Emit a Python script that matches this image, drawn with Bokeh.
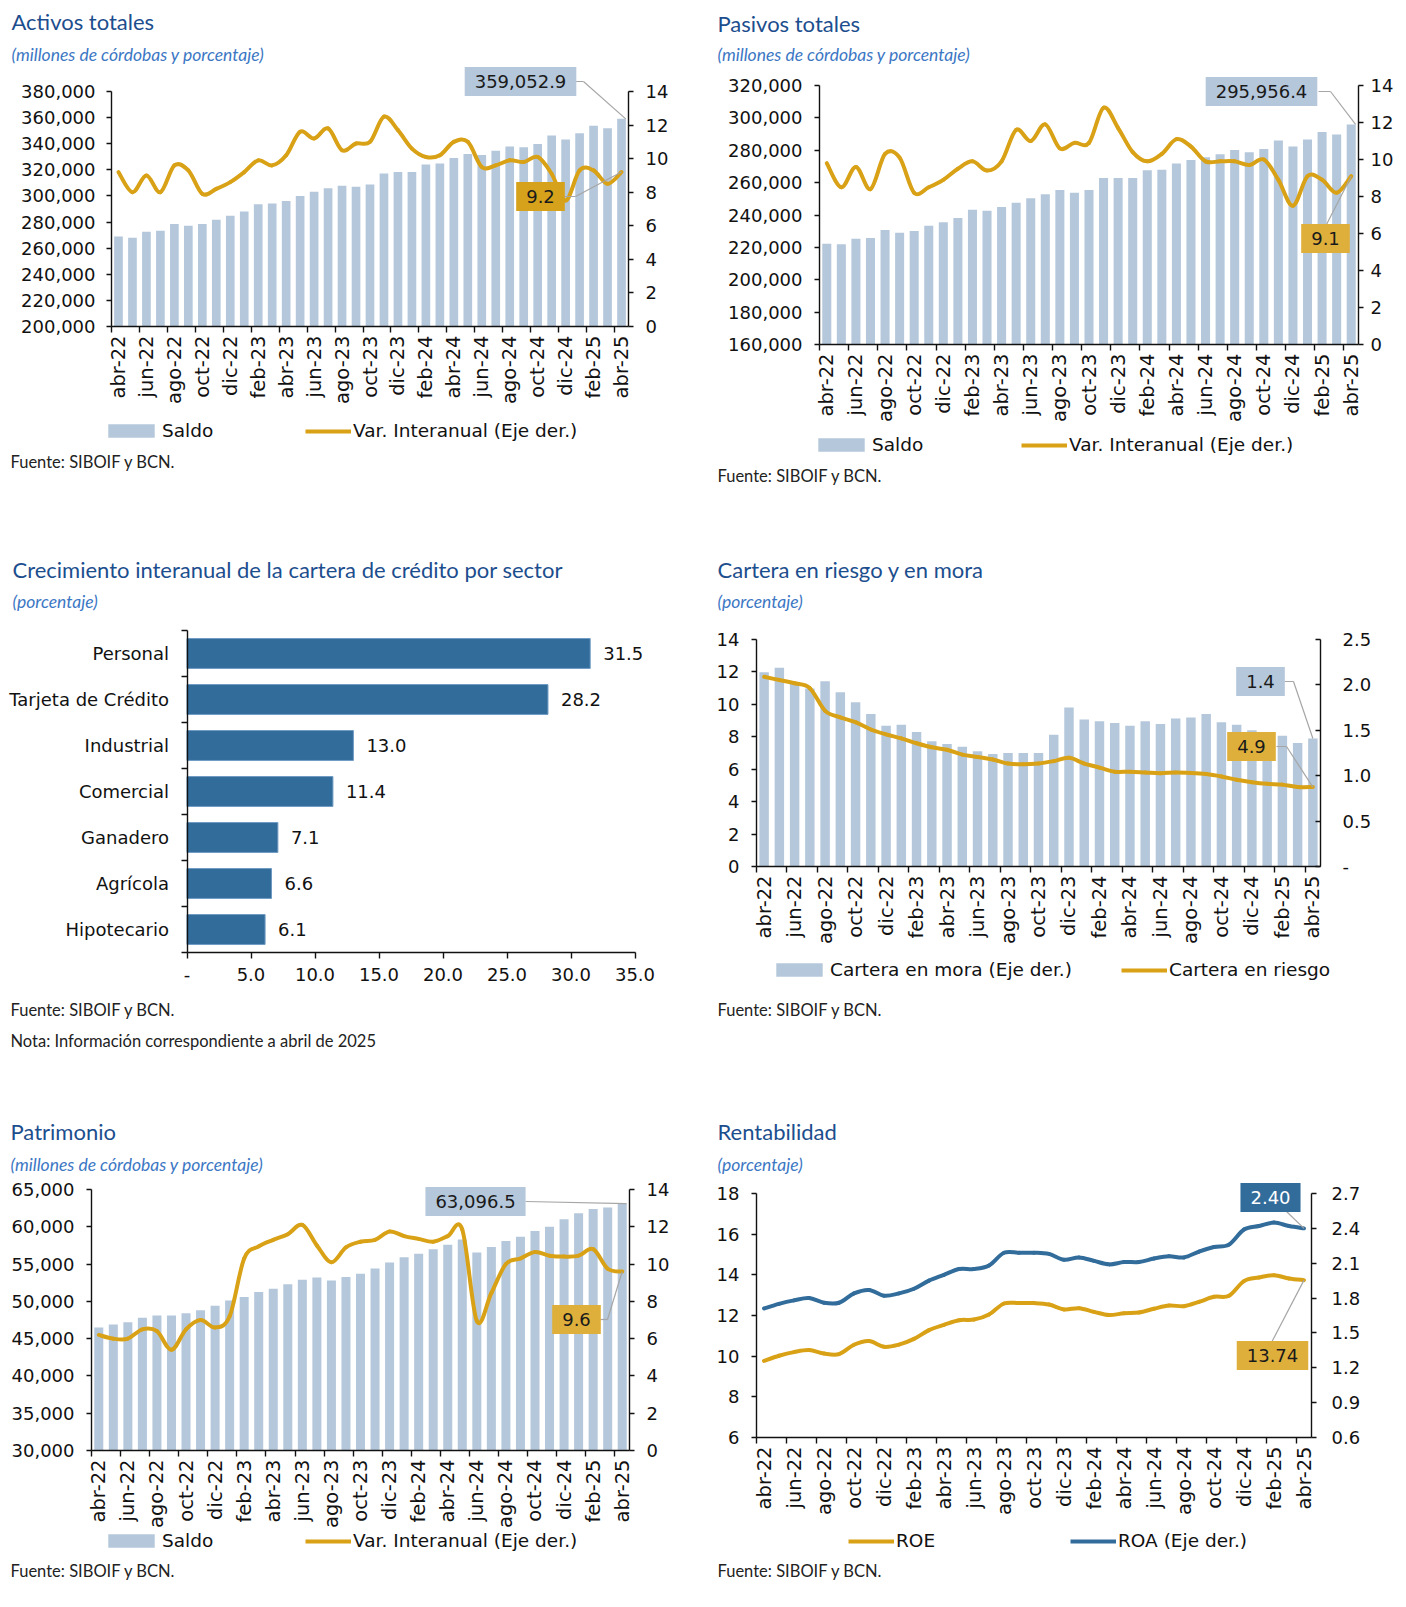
import math
from bokeh.plotting import figure
from bokeh.models import (Range1d, LinearAxis, FixedTicker, NumeralTickFormatter, Label,
                          Legend, LegendItem, Arrow, ColumnDataSource, LabelSet)
from bokeh.layouts import column, row
from bokeh.embed import file_html
from bokeh.resources import INLINE
from bokeh.core.properties import value

# ---------------- data ----------------
tick_labels = ["abr-22", "jun-22", "ago-22", "oct-22", "dic-22", "feb-23", "abr-23", "jun-23",
               "ago-23", "oct-23", "dic-23", "feb-24", "abr-24", "jun-24", "ago-24", "oct-24",
               "dic-24", "feb-25", "abr-25"]

activos_saldo = [269000, 268000, 272600, 273400, 278500, 277200, 278500, 281800, 284900, 288000,
                 293600, 294300, 296100, 300000, 303300, 305800, 307900, 307100, 308700, 317100,
                 318400, 318400, 324000, 324800, 329100, 332200, 331400, 334700, 337800, 337300,
                 339800, 346300, 343200, 348100, 353700, 351900, 359052.9]
activos_var = [9.2, 8.0, 9.0, 8.0, 9.6, 9.3, 7.9, 8.2, 8.6, 9.2, 9.9, 9.6, 10.2, 11.6, 11.2, 11.8,
               10.5, 10.9, 11.0, 12.5, 11.7, 10.6, 10.1, 10.2, 11.0, 11.0, 9.5, 9.6, 9.9, 9.8,
               10.1, 9.1, 7.5, 9.3, 9.3, 8.5, 9.2]

pasivos_saldo = [222300, 221900, 225400, 225800, 230700, 229100, 230100, 233400, 235500, 238100,
                 243300, 242700, 244900, 247600, 250300, 252800, 255500, 253800, 255500, 262900,
                 262900, 262900, 267600, 268000, 271800, 274000, 275700, 277500, 280200, 278800,
                 280800, 286000, 282300, 286600, 291300, 289700, 295956.4]
pasivos_var = [9.8, 8.5, 9.6, 8.4, 10.3, 10.1, 8.2, 8.5, 8.9, 9.5, 9.9, 9.4, 9.9, 11.6, 11.0, 11.9,
               10.6, 10.9, 10.9, 12.8, 11.7, 10.4, 9.9, 10.3, 11.1, 10.7, 9.9, 9.9, 9.9, 9.7,
               10.0, 8.9, 7.5, 9.1, 8.9, 8.2, 9.1]

sectores = ["Personal", "Tarjeta de Crédito", "Industrial", "Comercial", "Ganadero", "Agrícola",
            "Hipotecario"]
crecimiento = [31.5, 28.2, 13.0, 11.4, 7.1, 6.6, 6.1]

cartera_mora = [2.14, 2.19, 2.03, 1.96, 2.04, 1.92, 1.81, 1.68, 1.55, 1.56, 1.48, 1.38, 1.35, 1.32,
                1.27, 1.24, 1.25, 1.25, 1.25, 1.45, 1.75, 1.62, 1.60, 1.58, 1.55, 1.60, 1.57, 1.63,
                1.64, 1.68, 1.59, 1.56, 1.50, 1.46, 1.44, 1.36, 1.41]
cartera_riesgo = [11.7, 11.5, 11.3, 11.0, 9.6, 9.2, 8.9, 8.45, 8.15, 7.9, 7.6, 7.35, 7.2, 6.9, 6.75,
                  6.6, 6.35, 6.3, 6.35, 6.5, 6.7, 6.35, 6.1, 5.85, 5.85, 5.8, 5.75, 5.8, 5.77, 5.7,
                  5.55, 5.35, 5.2, 5.1, 5.05, 4.9, 4.9]

patrimonio_saldo = [46500, 46900, 47200, 47800, 48100, 48100, 48400, 48800, 49400, 50100, 50600,
                    51250, 51700, 52300, 52900, 53200, 52800, 53250, 53700, 54400, 55200, 55900,
                    56400, 57000, 57600, 58300, 56550, 57300, 58100, 58650, 59450, 60000, 61000,
                    61800, 62400, 62600, 63096.5]
patrimonio_var = [6.2, 6.0, 6.0, 6.5, 6.4, 5.4, 6.5, 7.0, 6.6, 7.2, 10.3, 10.95, 11.3, 11.6, 12.1,
                  11.0, 10.1, 10.9, 11.2, 11.3, 11.75, 11.5, 11.35, 11.2, 11.5, 11.85, 6.95, 8.45,
                  10.0, 10.3, 10.65, 10.45, 10.4, 10.45, 10.8, 9.75, 9.6]

roe = [9.77, 10.02, 10.20, 10.30, 10.13, 10.10, 10.56, 10.74, 10.46, 10.57, 10.85, 11.28, 11.54,
       11.77, 11.80, 12.05, 12.59, 12.61, 12.61, 12.54, 12.30, 12.36, 12.18, 12.02, 12.11, 12.15,
       12.33, 12.49, 12.46, 12.67, 12.92, 12.97, 13.69, 13.87, 13.98, 13.82, 13.74]
roa = [1.71, 1.75, 1.78, 1.80, 1.76, 1.76, 1.84, 1.87, 1.82, 1.84, 1.88, 1.95, 2.00, 2.05, 2.05,
       2.08, 2.19, 2.19, 2.19, 2.18, 2.13, 2.15, 2.12, 2.09, 2.11, 2.11, 2.14, 2.16, 2.15, 2.20,
       2.24, 2.26, 2.39, 2.42, 2.45, 2.42, 2.40]

N = len(activos_saldo)
xs = list(range(N))
tick_pos = list(range(0, N, 2))
XLO, XHI = -0.5, N - 0.5

# ---------------- style ----------------
TICK_FONT = "DejaVu Sans"
TITLE_FONT = "Lato"
BAR = "#B4C7DB"
GOLD = "#D9A116"
GOLD_BOX = "#DFAF3C"
GOLD_BOX_DARK = "#D6A21C"
BLUE = "#326C9B"
TITLE_C = "#1C4E8E"
SUB_C = "#3C77C4"
LEAD = "#A6A6A6"
FS = "18px"
FS_LEG = "18.5px"
FS_X = "19.5px"

# page geometry: figure origin/size and plot-area (axes) edges, in page pixels
G = {
    "p1": dict(ox=0, oy=0, w=703, h=544, fl=111, fr=628, ft=91, fb=326),
    "p2": dict(ox=703, oy=0, w=695, h=544, fl=819, fr=1358, ft=85, fb=344),
    "p3": dict(ox=0, oy=544, w=703, h=549, fl=186.5, fr=634.5, ft=630, fb=952),
    "p4": dict(ox=703, oy=544, w=695, h=549, fl=756, fr=1320, ft=639, fb=866),
    "p5": dict(ox=0, oy=1093, w=703, h=507, fl=91, fr=629, ft=1189, fb=1450),
    "p6": dict(ox=703, oy=1093, w=695, h=507, fl=756, fr=1311, ft=1193, fb=1437),
}


def yrange_for(g, lo, hi):
    sy = (hi - lo) / (g["fb"] - g["ft"])
    return Range1d(lo - (g["oy"] + g["h"] - g["fb"]) * sy, hi + (g["ft"] - g["oy"]) * sy)


def xrange_for(g, lo, hi):
    sx = (hi - lo) / (g["fr"] - g["fl"])
    return Range1d(lo - (g["fl"] - g["ox"]) * sx, hi + (g["ox"] + g["w"] - g["fr"]) * sx)


def make_fig(g, xlo, xhi, ylo, yhi):
    p = figure(width=g["w"], height=g["h"], x_range=xrange_for(g, xlo, xhi),
               y_range=yrange_for(g, ylo, yhi), output_backend="svg", toolbar_location=None,
               min_border=0)
    p.min_border_left = 0
    p.min_border_right = 0
    p.min_border_top = 0
    p.min_border_bottom = 0
    p.title.visible = False
    p.title_location = None
    p.outline_line_color = None
    p.xgrid.visible = False
    p.ygrid.visible = False
    return p


def S(g, X, Y):
    return X - g["ox"], g["oy"] + g["h"] - Y


def style_axis(ax, tick_out=5, tick_in=0, standoff=10, size=FS):
    ax.axis_line_color = "#111111"
    ax.axis_line_width = 1.4
    ax.major_tick_line_color = "#111111"
    ax.major_tick_line_width = 1.4
    ax.minor_tick_line_color = None
    ax.major_tick_out = tick_out
    ax.major_tick_in = tick_in
    ax.major_label_standoff = standoff
    ax.major_label_text_font = TICK_FONT
    ax.major_label_text_font_size = size
    ax.major_label_text_color = "#111111"


def month_axis(p, ylo):
    xa = p.xaxis[0]
    xa.fixed_location = ylo
    xa.bounds = (XLO, XHI)
    style_axis(xa, tick_out=0, tick_in=0, standoff=3, size=FS_X)
    xa.ticker = FixedTicker(ticks=tick_pos, minor_ticks=[t - 0.5 for t in tick_pos])
    xa.major_label_overrides = {t: lab for t, lab in zip(tick_pos, tick_labels)}
    xa.major_label_orientation = math.pi / 2
    xa.major_tick_line_color = None
    xa.minor_tick_line_color = "#111111"
    xa.minor_tick_line_width = 1.4
    xa.minor_tick_out = 6
    xa.minor_tick_in = 0


def left_axis(p, ticks, fmt, standoff=11):
    la = p.yaxis[0]
    la.fixed_location = XLO
    la.bounds = (ticks[0], ticks[-1])
    la.ticker = FixedTicker(ticks=ticks)
    la.formatter = NumeralTickFormatter(format=fmt)
    style_axis(la, tick_out=5, standoff=standoff)


def right_axis(p, g, ticks, fmt, tick_out=5, tick_in=0, standoff=12, overrides=None):
    lo, hi = ticks[0], ticks[-1]
    p.extra_y_ranges = {"r": yrange_for(g, lo, hi)}
    ra = LinearAxis(y_range_name="r", ticker=FixedTicker(ticks=ticks),
                    formatter=NumeralTickFormatter(format=fmt), fixed_location=XHI,
                    bounds=(lo, hi))
    style_axis(ra, tick_out=tick_out, tick_in=tick_in, standoff=standoff)
    if overrides:
        ra.major_label_overrides = overrides
    p.add_layout(ra, "right")


def txt(p, g, X, Y, text, size, color, font, style="normal"):
    sx, sy = S(g, X, Y)
    p.add_layout(Label(x=sx, y=sy, x_units="screen", y_units="screen",
                       text=text, text_font=font, text_font_size=size, text_color=color,
                       text_font_style=style, text_align="left", text_baseline="middle"))


def box(p, g, X, Y, text, fill, color="#1A1A1A"):
    sx, sy = S(g, X, Y)
    lab = Label(x=sx, y=sy, x_units="screen", y_units="screen", text=text,
                text_font=TICK_FONT, text_font_size=FS, text_color=color, text_align="center",
                text_baseline="middle", background_fill_color=fill)
    try:
        lab.padding = (10, 8)
    except Exception:
        try:
            lab.padding = 8
        except Exception:
            pass
    p.add_layout(lab)


def leader(p, g, pts, end_data, yr="default"):
    for a, b in zip(pts[:-1], pts[1:]):
        ax_, ay_ = S(g, *a)
        bx_, by_ = S(g, *b)
        p.add_layout(Arrow(x_start=ax_, y_start=ay_, x_end=bx_, y_end=by_,
                           start_units="screen", end_units="screen", end=None,
                           line_color=LEAD, line_width=1.2))
    ax_, ay_ = S(g, *pts[-1])
    p.add_layout(Arrow(x_start=ax_, y_start=ay_, x_end=end_data[0], y_end=end_data[1],
                       start_units="screen", end_units="data", end=None,
                       line_color=LEAD, line_width=1.2, y_range_name=yr))


def smooth(p, x, y, color, width, yr="default"):
    n = len(x)
    d = dict(x0=[], y0=[], x1=[], y1=[], cx0=[], cy0=[], cx1=[], cy1=[])
    for i in range(n - 1):
        im = max(i - 1, 0)
        ip = min(i + 2, n - 1)
        d["x0"].append(x[i]); d["y0"].append(y[i])
        d["x1"].append(x[i + 1]); d["y1"].append(y[i + 1])
        d["cx0"].append(x[i] + (x[i + 1] - x[im]) / 6.0)
        d["cy0"].append(y[i] + (y[i + 1] - y[im]) / 6.0)
        d["cx1"].append(x[i + 1] - (x[ip] - x[i]) / 6.0)
        d["cy1"].append(y[i + 1] - (y[ip] - y[i]) / 6.0)
    p.bezier(x0="x0", y0="y0", x1="x1", y1="y1", cx0="cx0", cy0="cy0", cx1="cx1", cy1="cy1",
             source=ColumnDataSource(d), line_color=color, line_width=width, line_cap="round",
             y_range_name=yr)
    # renderer used only for the legend swatch
    return p.line(x=[float("nan")], y=[float("nan")], line_color=color, line_width=width,
                  y_range_name=yr)


def legend(p, g, renderer, label, X, Y, kind):
    if kind == "bar":
        gw, gh, x0 = 58, 17, X - 6
    else:
        gw, gh, x0 = 46, 16, X
    sx, sy = S(g, x0, Y + 10)
    lg = Legend(items=[LegendItem(label=label, renderers=[renderer])],
                location=(sx, sy), orientation="horizontal",
                padding=0, margin=0, border_line_color=None, background_fill_alpha=0,
                glyph_width=gw, glyph_height=gh, label_height=20, label_standoff=2,
                label_text_font=TICK_FONT, label_text_font_size=FS_LEG,
                label_text_color="#111111")
    p.add_layout(lg)


def headers(p, g, title, subtitle, X, Yt, Ys):
    txt(p, g, X, Yt, title, "22px", TITLE_C, TITLE_FONT)
    txt(p, g, X, Ys, subtitle, "17.5px", SUB_C, TITLE_FONT, "italic")


def fuente(p, g, X, Y):
    txt(p, g, X, Y, "Fuente: SIBOIF y BCN.", "16.5px", "#222222", TITLE_FONT)


# ---------------- panel 1: Activos ----------------
g = G["p1"]
y1_ticks = list(range(200000, 380001, 20000))
p1 = make_fig(g, XLO, XHI, y1_ticks[0], y1_ticks[-1])
month_axis(p1, y1_ticks[0])
left_axis(p1, y1_ticks, "0,0", 11)
right_axis(p1, g, list(range(0, 15, 2)), "0", standoff=12)
b1 = p1.vbar(x=xs, top=activos_saldo, bottom=y1_ticks[0], width=0.62, fill_color=BAR,
             line_color=None)
l1 = smooth(p1, xs, activos_var, GOLD, 4, "r")
headers(p1, g, "Activos totales", "(millones de córdobas y porcentaje)", 11, 21, 54)
legend(p1, g, b1, "Saldo", 108, 431, "bar")
legend(p1, g, l1, "Var. Interanual (Eje der.)", 305, 431, "line")
fuente(p1, g, 10, 461)
leader(p1, g, [(575, 81), (583, 81)], (N - 1 + 0.3, activos_saldo[-1]))
box(p1, g, 520, 81, "359,052.9", BAR)
leader(p1, g, [(564, 196), (575, 196)], (N - 1, activos_var[-1]), "r")
box(p1, g, 540, 196, "9.2", GOLD_BOX_DARK)

# ---------------- panel 2: Pasivos ----------------
g = G["p2"]
y2_ticks = list(range(160000, 320001, 20000))
p2 = make_fig(g, XLO, XHI, y2_ticks[0], y2_ticks[-1])
month_axis(p2, y2_ticks[0])
left_axis(p2, y2_ticks, "0,0", 12)
right_axis(p2, g, list(range(0, 15, 2)), "0", standoff=7)
b2 = p2.vbar(x=xs, top=pasivos_saldo, bottom=y2_ticks[0], width=0.62, fill_color=BAR,
             line_color=None)
l2 = smooth(p2, xs, pasivos_var, GOLD, 4, "r")
headers(p2, g, "Pasivos totales", "(millones de córdobas y porcentaje)", 717, 23, 54)
legend(p2, g, b2, "Saldo", 818, 445, "bar")
legend(p2, g, l2, "Var. Interanual (Eje der.)", 1021, 445, "line")
fuente(p2, g, 717, 475)
leader(p2, g, [(1318, 91), (1330, 91)], (N - 1 + 0.3, pasivos_saldo[-1]))
box(p2, g, 1261, 91, "295,956.4", BAR)
leader(p2, g, [(1326, 224)], (N - 1, pasivos_var[-1]), "r")
box(p2, g, 1325, 238, "9.1", GOLD_BOX)

# ---------------- panel 3: Crecimiento por sector ----------------
g = G["p3"]
ns = len(sectores)
ypos = [ns - 1 - i for i in range(ns)]
x3_ticks = list(range(0, 36, 5))
p3 = make_fig(g, x3_ticks[0], x3_ticks[-1], -0.5, ns - 0.5)
xa3 = p3.xaxis[0]
xa3.fixed_location = -0.5
xa3.bounds = (x3_ticks[0], x3_ticks[-1])
style_axis(xa3, tick_out=6, standoff=9)
xa3.ticker = FixedTicker(ticks=x3_ticks)
xa3.formatter = NumeralTickFormatter(format="0.0")
xa3.major_label_overrides = {0: "-"}
ya3 = p3.yaxis[0]
ya3.fixed_location = 0
ya3.bounds = (-0.5, ns - 0.5)
style_axis(ya3, tick_out=0, standoff=12)
ya3.ticker = FixedTicker(ticks=ypos, minor_ticks=[v - 0.5 for v in range(ns + 1)])
ya3.major_label_overrides = {yp: s for yp, s in zip(ypos, sectores)}
ya3.major_tick_line_color = None
ya3.minor_tick_line_color = "#111111"
ya3.minor_tick_line_width = 1.4
ya3.minor_tick_out = 6
ya3.minor_tick_in = 0
src3 = ColumnDataSource(dict(y=ypos, v=crecimiento, t=["%.1f" % v for v in crecimiento]))
p3.hbar(y="y", right="v", left=0, height=0.65, source=src3, fill_color=BLUE,
        line_color="#6F9BC3", line_width=1)
p3.add_layout(LabelSet(x="v", y="y", text="t", source=src3, x_offset=13,
                       text_font=value(TICK_FONT), text_font_size=value(FS),
                       text_color="#111111", text_baseline="middle"))
headers(p3, g, "Crecimiento interanual de la cartera de crédito por sector", "(porcentaje)",
        12, 569, 601)
fuente(p3, g, 10, 1009)
txt(p3, g, 10, 1040, "Nota: Información correspondiente a abril de 2025", "16.5px", "#222222",
    TITLE_FONT)

# ---------------- panel 4: Cartera en riesgo y en mora ----------------
g = G["p4"]
y4_ticks = list(range(0, 15, 2))
p4 = make_fig(g, XLO, XHI, y4_ticks[0], y4_ticks[-1])
month_axis(p4, y4_ticks[0])
left_axis(p4, y4_ticks, "0", 12)
right_axis(p4, g, [0, 0.5, 1.0, 1.5, 2.0, 2.5], "0.0", tick_out=0, tick_in=5,
           standoff=22, overrides={0: "-"})
b4 = p4.vbar(x=xs, top=cartera_mora, bottom=0, width=0.62, fill_color=BAR, line_color=None,
             y_range_name="r")
l4 = smooth(p4, xs, cartera_riesgo, GOLD, 4)
headers(p4, g, "Cartera en riesgo y en mora", "(porcentaje)", 717, 569, 601)
legend(p4, g, b4, "Cartera en mora (Eje der.)", 776, 970, "bar")
legend(p4, g, l4, "Cartera en riesgo", 1121, 970, "line")
fuente(p4, g, 717, 1009)
leader(p4, g, [(1284, 681), (1293, 681)], (N - 1, cartera_mora[-1]), "r")
box(p4, g, 1260, 681, "1.4", BAR)
leader(p4, g, [(1276, 746), (1286, 746)], (N - 1, cartera_riesgo[-1]))
box(p4, g, 1251, 746, "4.9", GOLD_BOX)

# ---------------- panel 5: Patrimonio ----------------
g = G["p5"]
y5_ticks = list(range(30000, 65001, 5000))
p5 = make_fig(g, XLO, XHI, y5_ticks[0], y5_ticks[-1])
month_axis(p5, y5_ticks[0])
left_axis(p5, y5_ticks, "0,0", 12)
right_axis(p5, g, list(range(0, 15, 2)), "0", standoff=12)
b5 = p5.vbar(x=xs, top=patrimonio_saldo, bottom=y5_ticks[0], width=0.62, fill_color=BAR,
             line_color=None)
l5 = smooth(p5, xs, patrimonio_var, GOLD, 4, "r")
headers(p5, g, "Patrimonio", "(millones de córdobas y porcentaje)", 10, 1131, 1164)
legend(p5, g, b5, "Saldo", 108, 1541, "bar")
legend(p5, g, l5, "Var. Interanual (Eje der.)", 305, 1541, "line")
fuente(p5, g, 10, 1570)
leader(p5, g, [(525, 1201)], (N - 1 + 0.3, patrimonio_saldo[-1]))
box(p5, g, 475, 1201, "63,096.5", BAR)
leader(p5, g, [(600, 1319), (607, 1319)], (N - 1, patrimonio_var[-1]), "r")
box(p5, g, 576, 1319, "9.6", GOLD_BOX)

# ---------------- panel 6: Rentabilidad ----------------
g = G["p6"]
y6_ticks = list(range(6, 19, 2))
p6 = make_fig(g, XLO, XHI, y6_ticks[0], y6_ticks[-1])
month_axis(p6, y6_ticks[0])
left_axis(p6, y6_ticks, "0", 12)
right_axis(p6, g, [round(0.6 + 0.3 * i, 1) for i in range(8)], "0.0", standoff=15)
l6a = smooth(p6, xs, roe, GOLD, 4)
l6b = smooth(p6, xs, roa, BLUE, 4, "r")
headers(p6, g, "Rentabilidad", "(porcentaje)", 717, 1131, 1164)
legend(p6, g, l6a, "ROE", 848, 1541, "line")
legend(p6, g, l6b, "ROA (Eje der.)", 1070, 1541, "line")
fuente(p6, g, 717, 1570)
leader(p6, g, [(1286, 1211)], (N - 1, roa[-1]), "r")
box(p6, g, 1270, 1197, "2.40", BLUE, color="white")
leader(p6, g, [(1271, 1342)], (N - 1, roe[-1]))
box(p6, g, 1272, 1355, "13.74", GOLD_BOX)

layout = column(row(p1, p2), row(p3, p4), row(p5, p6))
open("out.html", "w").write(file_html(layout, INLINE))
